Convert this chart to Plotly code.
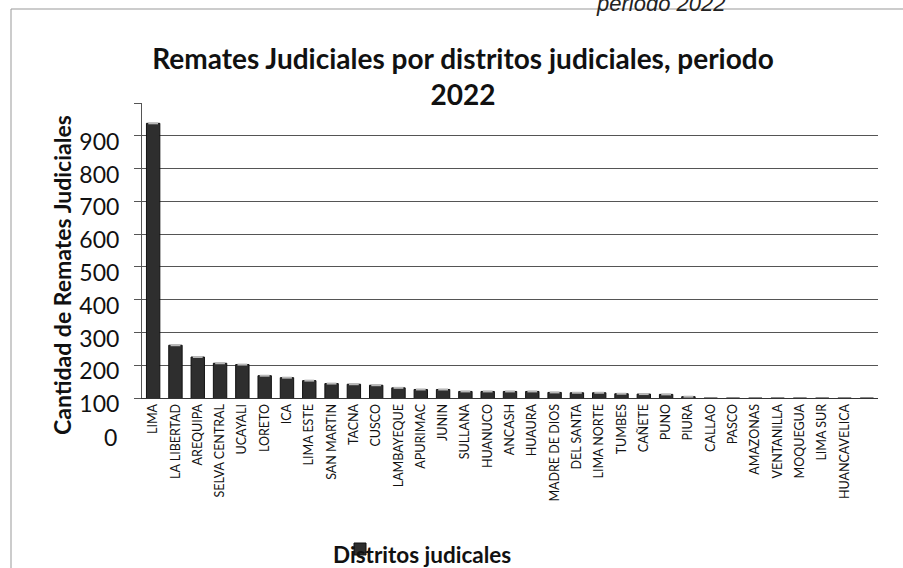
import plotly.graph_objects as go

districts = ["LIMA", "LA LIBERTAD", "AREQUIPA", "SELVA CENTRAL", "UCAYALI", "LORETO", "ICA",
             "LIMA ESTE", "SAN MARTIN", "TACNA", "CUSCO", "LAMBAYEQUE", "APURIMAC", "JUNIN",
             "SULLANA", "HUANUCO", "ANCASH", "HUAURA", "MADRE DE DIOS", "DEL SANTA", "LIMA NORTE",
             "TUMBES", "CAÑETE", "PUNO", "PIURA", "CALLAO", "PASCO", "AMAZONAS", "VENTANILLA",
             "MOQUEGUA", "LIMA SUR", "HUANCAVELICA", ""]
remates = [938, 261, 225, 206, 202, 168, 162, 153, 144, 142, 139, 131, 126, 126,
           120, 120, 120, 120, 117, 116, 116, 113, 112, 111, 104, 100, 100, 100, 100,
           100, 100, 100, 100]
y_ticks = [100, 200, 300, 400, 500, 600, 700, 800, 900, 1000]
y_ticktext = ["100", "200", "300", "400", "500", "600", "700", "800", "900", ""]
extra_label = "0"

FONT = "Lato"
W, H = 903, 568
L, R, T, B = 142, 25, 103, 170
pw, ph = W - L - R, H - T - B

def px_x(x):
    return (x - L) / pw

def px_y(y):
    return (H - B - y) / ph

xs = list(range(len(districts)))
cap_y = [v if v > y_ticks[0] else None for v in remates]

fig = go.Figure()
fig.add_trace(go.Bar(
    x=xs, y=remates, name=" ",
    marker=dict(color="#2e2e2e", line=dict(color="#111111", width=1)),
    showlegend=True,
))
fig.add_trace(go.Scatter(
    x=xs, y=cap_y, mode="markers", showlegend=False, hoverinfo="skip",
    marker=dict(symbol="line-ew", size=7, line=dict(color="#b8b8b8", width=2)),
))

fig.update_layout(
    width=W, height=H,
    margin=dict(l=L, r=R, t=T, b=B, autoexpand=False),
    paper_bgcolor="white", plot_bgcolor="white",
    bargap=0.4,
    font=dict(family=FONT, color="#111111"),
    title=dict(
        text="<b>Remates Judiciales por distritos judiciales, periodo<br>2022</b>",
        x=463 / W, xanchor="center", xref="container",
        y=1 - 69 / H, yanchor="middle", yref="container",
        font=dict(family=FONT, size=28, color="#111111"),
    ),
    xaxis=dict(
        range=[-0.5, len(districts) - 0.5],
        tickmode="array", tickvals=xs, ticktext=districts,
        tickangle=-90, tickfont=dict(family=FONT, size=12.5, color="#111111"),
        showline=True, linecolor="#333333", linewidth=1,
        showgrid=False, ticks="", automargin=False,
    ),
    yaxis=dict(
        range=[100, 1000],
        tickmode="array", tickvals=y_ticks, ticktext=y_ticktext,
        tickfont=dict(family=FONT, size=23, color="#111111"),
        ticks="outside", ticklen=7, tickcolor="#555555",
        ticklabelstandoff=10, ticklabelshift=6,
        showline=True, linecolor="#555555", linewidth=1,
        showgrid=True, gridcolor="#555555", gridwidth=1,
        zeroline=False, automargin=False,
    ),
    legend=dict(
        x=px_x(340), y=px_y(549), xanchor="left", yanchor="middle",
        bgcolor="rgba(0,0,0,0)", font=dict(size=10),
    ),
)

fig.add_annotation(
    text=extra_label, xref="paper", yref="paper", x=px_x(119), y=px_y(437),
    xanchor="right", yanchor="middle", showarrow=False,
    font=dict(family=FONT, size=23, color="#111111"),
)
fig.add_annotation(
    text="<b>Cantidad de Remates Judiciales</b>", textangle=-90,
    xref="paper", yref="paper", x=px_x(62), y=px_y(275),
    xanchor="center", yanchor="middle", showarrow=False,
    font=dict(family=FONT, size=23, color="#111111"),
)
fig.add_annotation(
    text="<b>Distritos judicales</b>",
    xref="paper", yref="paper", x=px_x(422), y=px_y(554),
    xanchor="center", yanchor="middle", showarrow=False,
    font=dict(family=FONT, size=22.5, color="#111111"),
)
fig.add_annotation(
    text="<i>periodo 2022</i>",
    xref="paper", yref="paper", x=px_x(660), y=px_y(3),
    xanchor="center", yanchor="middle", showarrow=False,
    font=dict(family="Liberation Sans", size=22, color="#222222"),
)
fig.add_shape(
    type="rect", xref="paper", yref="paper",
    x0=px_x(11), x1=px_x(W + 20), y0=px_y(H + 20), y1=px_y(9),
    line=dict(color="#999999", width=1), layer="below",
)

fig.write_html("out.html", config={"displayModeBar": False},
               post_script="document.body.style.margin='0';")
